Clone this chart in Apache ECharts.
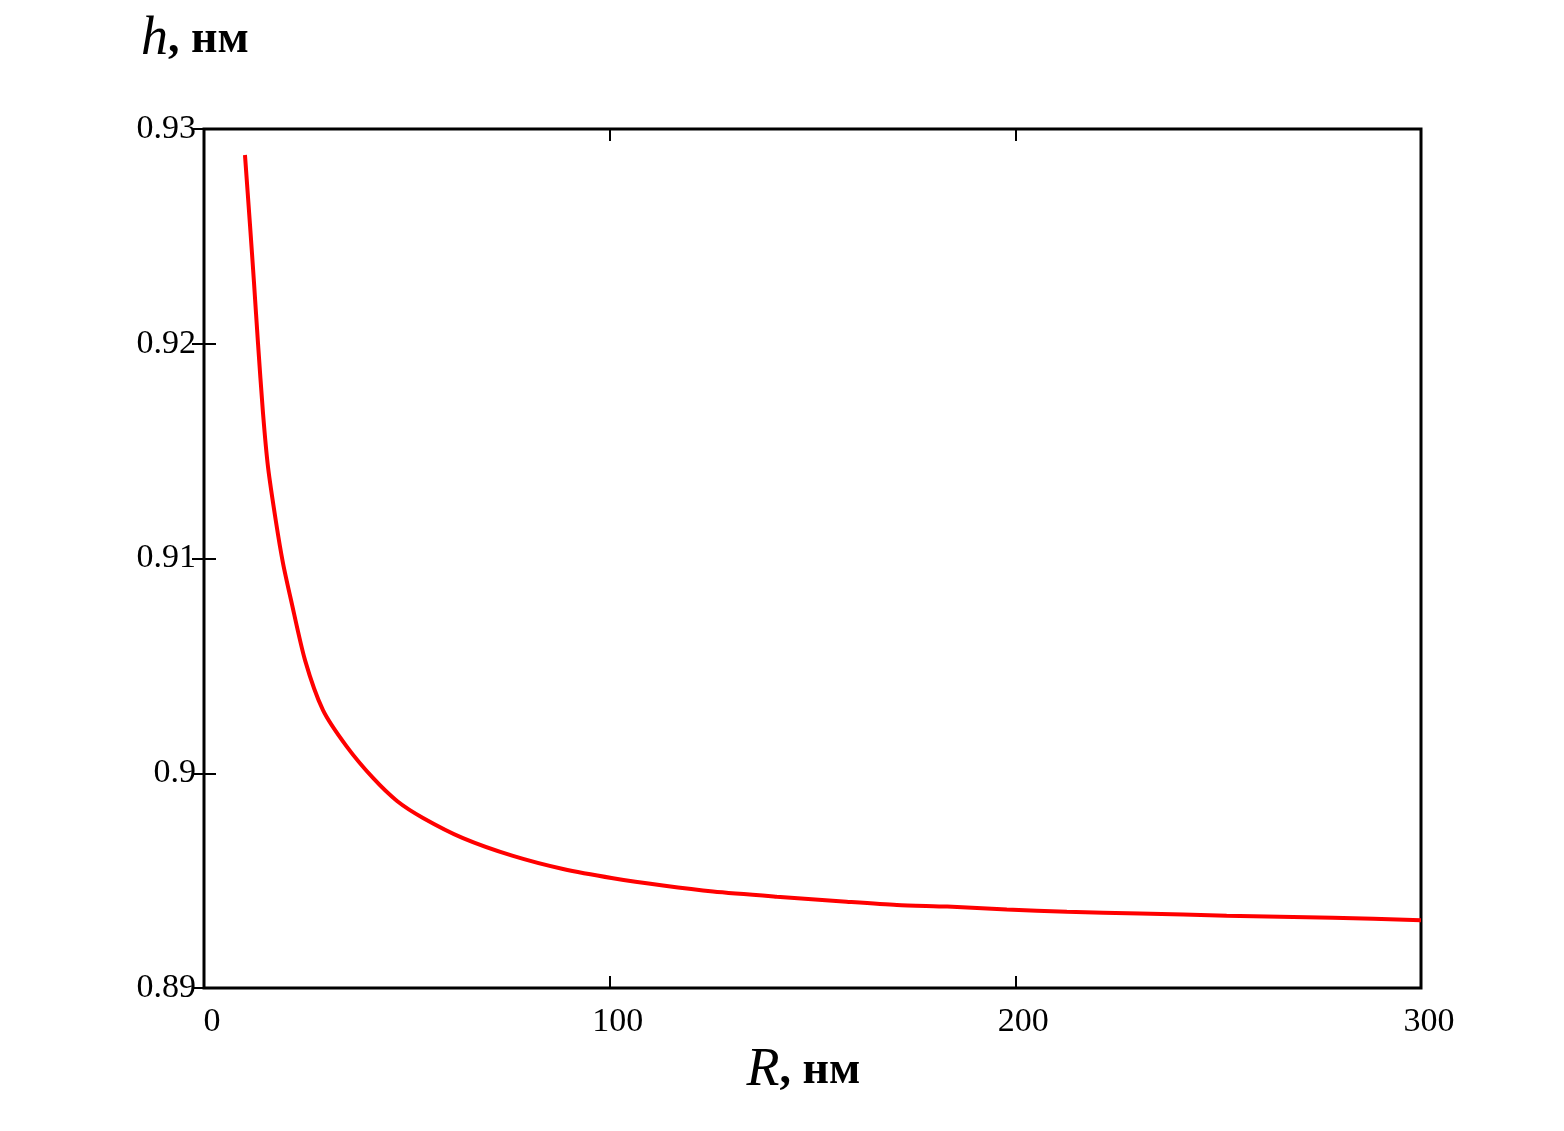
<!DOCTYPE html>
<html>
<head>
<meta charset="utf-8">
<script src="https://cdn.jsdelivr.net/npm/echarts@6/dist/echarts.min.js"></script>
<style>
  html, body { margin: 0; padding: 0; background: #fff; }
  #chart { width: 1564px; height: 1131px; }
</style>
</head>
<body>
<div id="chart"></div>
<script>
// R, nm
var radius = [10.1, 11.34, 12.33, 13.31, 14.54, 15.78, 17.75, 19.47, 21.45, 24.9, 29.33, 35.2,
  41.66, 47.58, 53.99, 63.84, 76.17, 88.5, 100.82, 113.15, 125.47, 141.2, 158.4, 170.8, 183.2,
  197.9, 212.7, 230.7, 252.1, 278.3, 300];
// h, nm
var height = [0.92879, 0.92553, 0.92283, 0.92003, 0.91678, 0.91426, 0.9117, 0.90979, 0.90807,
  0.90527, 0.90294, 0.90124, 0.89978, 0.89871, 0.89792, 0.89698, 0.89615, 0.89554, 0.89511,
  0.89477, 0.89449, 0.89425, 0.89402, 0.89387, 0.89379, 0.89366, 0.89355, 0.89347, 0.89337,
  0.89327, 0.89316];

var font = "'Liberation Serif', 'DejaVu Serif', serif";

var points = radius.map(function (r, i) {
  return [r, height[i]];
});

var chart = echarts.init(document.getElementById("chart"));

var tickStyle = {
  show: true,
  inside: true,
  length: 12,
  lineStyle: { color: "#000", width: 2 },
};

var nameRich = {
  i: { fontFamily: font, fontStyle: "italic", fontSize: 54, color: "#000" },
  n: { fontFamily: font, fontWeight: "bold", fontSize: 46, color: "#000" },
};

chart.setOption({
  backgroundColor: "#fff",
  animation: false,
  grid: {
    left: 204,
    right: 143,
    top: 129,
    bottom: 143,
    show: true,
    borderColor: "#000",
    borderWidth: 3,
    backgroundColor: "transparent",
  },
  xAxis: [
    {
      type: "value",
      min: 0,
      max: 300,
      interval: 100,
      position: "bottom",
      axisLine: { show: false },
      axisTick: tickStyle,
      splitLine: { show: false },
      axisLabel: {
        margin: 17,
        padding: [0, 0, 0, 16],
        color: "#000",
        fontFamily: font,
        fontSize: 34,
      },
      name: "{i|R}{n|, нм}",
      nameLocation: "middle",
      nameGap: 56,
      nameTextStyle: {
        padding: [0, 18, 0, 0],
        rich: nameRich,
      },
    },
    {
      type: "value",
      min: 0,
      max: 300,
      interval: 100,
      position: "top",
      axisLine: { show: false },
      axisTick: tickStyle,
      splitLine: { show: false },
      axisLabel: { show: false },
    },
  ],
  yAxis: [
    {
      type: "value",
      min: 0.89,
      max: 0.93,
      interval: 0.01,
      position: "left",
      axisLine: { show: false },
      axisTick: tickStyle,
      splitLine: { show: false },
      axisLabel: {
        margin: 8,
        color: "#000",
        fontFamily: font,
        fontSize: 34,
      },
      name: "{i|h}{n|, нм}",
      nameLocation: "end",
      nameGap: 62,
      nameTextStyle: {
        padding: [0, 18, 0, 0],
        rich: nameRich,
      },
    },
    {
      type: "value",
      min: 0.89,
      max: 0.93,
      interval: 0.01,
      position: "right",
      axisLine: { show: false },
      axisTick: tickStyle,
      splitLine: { show: false },
      axisLabel: { show: false },
    },
  ],
  series: [
    {
      type: "line",
      data: points,
      xAxisIndex: 0,
      yAxisIndex: 0,
      smooth: 0.25,
      showSymbol: false,
      lineStyle: { color: "#ff0000", width: 4 },
    },
  ],
});
</script>
</body>
</html>
